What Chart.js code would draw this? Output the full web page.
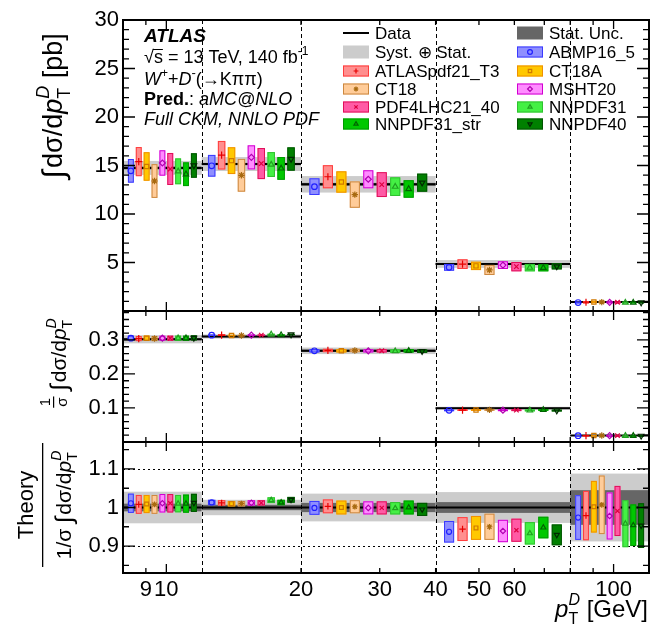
<!DOCTYPE html>
<html>
<head>
<meta charset="utf-8">
<title>W+D pT cross sections</title>
<script src="https://cdn.jsdelivr.net/npm/chart.js@4.4.1/dist/chart.umd.min.js"></script>
<style>
  body { margin: 0; background: #fff; }
  #wrap { position: relative; width: 650px; height: 625px; }
  #wrap canvas { position: absolute; left: 0; }
</style>
</head>
<body>
<div id="wrap">
  <canvas id="absChart" width="650" height="311" style="top:0px"></canvas>
  <canvas id="normChart" width="650" height="131" style="top:311px"></canvas>
  <canvas id="ratioChart" width="650" height="183" style="top:442px"></canvas>
</div>
<script>
// pT(D) bins [GeV]
const binEdges = [8, 12, 20, 40, 80, 120];
const pdfNames = ['ABMP16_5', 'ATLASpdf21_T3', 'CT18A', 'CT18', 'MSHT20',
                  'PDF4LHC21_40', 'NNPDF31', 'NNPDF31_str', 'NNPDF40'];

// Top panel: integrated cross section [pb]
const dataAbs = [14.75, 15.15, 13.06, 4.85, 0.93];
const dataAbsSyst = [0.72, 0.72, 0.85, 0.40, 0.08];
const dataAbsStat = [0.15, 0.12, 0.15, 0.07, 0.04];
const predAbs = [
  [14.45, 14.97, 12.82, 4.50, 0.87],
  [15.40, 16.06, 13.84, 4.83, 0.90],
  [14.90, 15.50, 13.30, 4.65, 0.93],
  [13.40, 13.99, 12.00, 4.23, 0.92],
  [15.26, 15.84, 13.58, 4.73, 0.89],
  [14.64, 15.20, 13.03, 4.57, 0.90],
  [14.40, 15.10, 12.82, 4.47, 0.86],
  [14.10, 14.70, 12.58, 4.45, 0.86],
  [15.00, 15.67, 13.23, 4.60, 0.87]
];
const predAbsErr = [
  [1.22, 1.12, 0.86, 0.35, 0.10],
  [1.50, 1.47, 1.19, 0.50, 0.13],
  [1.47, 1.38, 1.10, 0.43, 0.12],
  [1.74, 1.69, 1.36, 0.52, 0.14],
  [1.31, 1.24, 0.93, 0.40, 0.11],
  [1.65, 1.60, 1.28, 0.48, 0.13],
  [1.33, 1.28, 0.96, 0.38, 0.10],
  [1.22, 1.17, 0.90, 0.36, 0.09],
  [1.26, 1.20, 0.93, 0.31, 0.09]
];

// Middle panel: normalised cross section
const dataNorm = [0.302, 0.310, 0.268, 0.0995, 0.019];
const dataNormSyst = [0.012, 0.006, 0.0096, 0.004, 0.0017];
const dataNormStat = [0.003, 0.0022, 0.0035, 0.0014, 0.0009];
const predNorm = [
  [0.305, 0.314, 0.268, 0.0932, 0.0185],
  [0.304, 0.314, 0.269, 0.0939, 0.0186],
  [0.305, 0.313, 0.268, 0.0942, 0.0190],
  [0.304, 0.313, 0.269, 0.0945, 0.0191],
  [0.305, 0.314, 0.268, 0.0934, 0.0186],
  [0.305, 0.314, 0.268, 0.0936, 0.0188],
  [0.305, 0.316, 0.267, 0.0928, 0.0182],
  [0.305, 0.314, 0.268, 0.0943, 0.0181],
  [0.306, 0.316, 0.267, 0.0924, 0.0181]
];
const predNormErr = [0.0075, 0.0022, 0.005, 0.0028, 0.0012];

// Bottom panel: theory / data (normalised)
const dataRatio = [1, 1, 1, 1, 1];
const ratioSyst = [0.041, 0.020, 0.036, 0.040, 0.088];
const ratioStat = [0.010, 0.007, 0.012, 0.014, 0.045];
const predRatio = [
  [1.011, 1.013, 0.999, 0.937, 0.974],
  [1.008, 1.012, 1.003, 0.944, 0.979],
  [1.009, 1.010, 1.000, 0.947, 1.002],
  [1.008, 1.010, 1.002, 0.950, 1.007],
  [1.011, 1.012, 0.999, 0.939, 0.978],
  [1.011, 1.012, 0.999, 0.941, 0.991],
  [1.010, 1.019, 0.998, 0.933, 0.958],
  [1.010, 1.013, 1.000, 0.948, 0.954],
  [1.012, 1.020, 0.995, 0.929, 0.953]
];
const predRatioErr = [
  [0.025, 0.007, 0.018, 0.028, 0.058],
  [0.0245, 0.007, 0.018, 0.031, 0.064],
  [0.0235, 0.007, 0.018, 0.031, 0.067],
  [0.0245, 0.007, 0.017, 0.034, 0.076],
  [0.024, 0.007, 0.017, 0.029, 0.061],
  [0.024, 0.007, 0.017, 0.030, 0.065],
  [0.0225, 0.0075, 0.016, 0.029, 0.061],
  [0.0235, 0.007, 0.018, 0.028, 0.054],
  [0.0235, 0.0075, 0.017, 0.027, 0.058]
];

// axis ticks
const xTickLabels = [9, 10, 20, 30, 40, 50, 60, 100];
const xMajorTicks = [10, 100];
const xMinorTicks = [9, 20, 30, 40, 50, 60, 70, 80, 90];

// styles for each prediction
const pdfStyles = [
  { fill: '#8f8fff', edge: '#3a3aff', mark: '#1f1fff', shape: 'circle', open: true, r: 2.8 },
  { fill: '#ff8f8f', edge: '#ff3d3d', mark: '#e60000', shape: 'cross', open: false, r: 3.6 },
  { fill: '#ffc800', edge: '#f09000', mark: '#d07800', shape: 'rect', open: true, r: 3 },
  { fill: '#ffcc99', edge: '#cc8840', mark: '#a86a10', shape: 'star', open: false, r: 3.2 },
  { fill: '#ff8cff', edge: '#d000d0', mark: '#b000b0', shape: 'rectRot', open: true, r: 3 },
  { fill: '#ff5aa5', edge: '#e0105a', mark: '#dd0040', shape: 'crossRot', open: false, r: 3.2 },
  { fill: '#44f044', edge: '#30c030', mark: '#20a020', shape: 'triangle', open: true, r: 3.2 },
  { fill: '#00c800', edge: '#009a00', mark: '#006400', shape: 'triangle', open: true, r: 3.2 },
  { fill: '#008000', edge: '#005400', mark: '#002800', shape: 'triangle', rot: 180, open: true, r: 3.2 }
];

const FONT = '"Liberation Sans", Arial, Helvetica, sans-serif';
function font(size, style) {
  return (style ? style + ' ' : '') + size + 'px ' + FONT;
}

// position of prediction k inside bin b (log-spaced)
function slotX(b, k) {
  const lo = binEdges[b], hi = binEdges[b + 1];
  return lo * Math.pow(hi / lo, (k + 1) / 10);
}

function makeTicks(from, to, step) {
  const out = [];
  const n = Math.round((to - from) / step);
  for (let i = 0; i <= n; i++) out.push(parseFloat((from + i * step).toFixed(4)));
  return out;
}
function isMult(v, step) {
  return Math.abs(v / step - Math.round(v / step)) < 1e-6;
}

// draw a run of text pieces (with sup/sub) along the baseline
function drawRich(ctx, runs, x, y, draw) {
  let cx = x;
  for (const r of runs) {
    if (r.sup !== undefined || r.sub !== undefined) {
      let w = 0;
      if (r.sup) {
        ctx.font = r.supFont;
        if (draw) ctx.fillText(r.sup, cx, y - r.up);
        w = ctx.measureText(r.sup).width;
      }
      if (r.sub) {
        ctx.font = r.subFont;
        if (draw) ctx.fillText(r.sub, cx, y + r.down);
        w = Math.max(w, ctx.measureText(r.sub).width);
      }
      cx += w;
    } else {
      ctx.font = r.font;
      if (draw) ctx.fillText(r.t, cx, y + (r.dy || 0));
      cx += ctx.measureText(r.t).width + (r.after || 0);
    }
  }
  return cx - x;
}

function pTRuns(S) {
  return [
    { t: 'p', font: font(S, 'italic') },
    { sup: 'D', supFont: font(Math.round(S * 0.68), 'italic'), up: S * 0.5,
      sub: 'T', subFont: font(Math.round(S * 0.68)), down: S * 0.3 }
  ];
}
function intRuns(S) {
  return [
    { t: '\u222B', font: font(Math.round(S * 1.15)), dy: S * 0.06, after: S * 0.08 },
    { t: 'd\u03C3/d', font: font(S) }
  ].concat(pTRuns(S));
}

// rotated text, reading bottom to top; anchor = baseline x, centre y
function drawRotated(ctx, runs, baseX, centreY) {
  const w = drawRich(ctx, runs, 0, 0, false);
  ctx.save();
  ctx.translate(baseX, centreY);
  ctx.rotate(-Math.PI / 2);
  ctx.fillStyle = '#000';
  ctx.textBaseline = 'alphabetic';
  drawRich(ctx, runs, -w / 2, 0, true);
  ctx.restore();
  return w;
}

function drawMarker(ctx, st, x, y, r) {
  ctx.save();
  ctx.strokeStyle = st.mark;
  ctx.fillStyle = st.open ? 'rgba(0,0,0,0)' : st.mark;
  ctx.lineWidth = 1.2;
  Chart.helpers.drawPoint(ctx, { pointStyle: st.shape, rotation: st.rot || 0, radius: r, borderWidth: 1.2 }, x, y);
  ctx.restore();
}

function decorPlugin(cfg) {
  return {
    id: 'decor',
    beforeDatasetsDraw(chart) {
      const { ctx, chartArea: a, scales: { x, y } } = chart;
      ctx.save();
      ctx.beginPath();
      ctx.rect(a.left, a.top, a.right - a.left, a.bottom - a.top);
      ctx.clip();
      cfg.data.forEach((v, b) => {
        const x1 = x.getPixelForValue(binEdges[b]);
        const x2 = x.getPixelForValue(binEdges[b + 1]);
        let t = y.getPixelForValue(v + cfg.syst[b]);
        let bt = y.getPixelForValue(v - cfg.syst[b]);
        ctx.fillStyle = '#cccccc';
        ctx.fillRect(x1, t, x2 - x1, bt - t);
        t = y.getPixelForValue(v + cfg.stat[b]);
        bt = y.getPixelForValue(v - cfg.stat[b]);
        ctx.fillStyle = '#666666';
        ctx.fillRect(x1, t, x2 - x1, bt - t);
      });
      // dashed bin boundaries
      ctx.strokeStyle = '#000';
      ctx.lineWidth = 1;
      ctx.setLineDash([4, 3]);
      binEdges.slice(1, -1).forEach(e => {
        const px = Math.round(x.getPixelForValue(e)) + 0.5;
        ctx.beginPath();
        ctx.moveTo(px, a.top);
        ctx.lineTo(px, a.bottom);
        ctx.stroke();
      });
      // dotted reference lines
      ctx.setLineDash([2, 3]);
      (cfg.refLines || []).forEach(v => {
        const py = Math.round(y.getPixelForValue(v)) + 0.5;
        ctx.beginPath();
        ctx.moveTo(a.left, py);
        ctx.lineTo(a.right, py);
        ctx.stroke();
      });
      ctx.restore();
    },
    afterDatasetDraw(chart, args) {
      if (args.index !== 0) return;
      const { ctx, chartArea: a, scales: { x, y } } = chart;
      ctx.save();
      ctx.beginPath();
      ctx.rect(a.left, a.top, a.right - a.left, a.bottom - a.top);
      ctx.clip();
      cfg.pred.forEach((series, k) => {
        const st = pdfStyles[k];
        series.forEach((v, b) => {
          const e = cfg.err(k, b);
          const half = Math.pow(binEdges[b + 1] / binEdges[b], 0.0375);
          const c = slotX(b, k);
          const x1 = x.getPixelForValue(c / half), x2 = x.getPixelForValue(c * half);
          const y1 = y.getPixelForValue(v + e), y2 = y.getPixelForValue(v - e);
          ctx.fillStyle = st.fill;
          ctx.fillRect(x1, y1, x2 - x1, y2 - y1);
          ctx.strokeStyle = st.edge;
          ctx.lineWidth = 1;
          ctx.strokeRect(x1 + 0.5, y1 + 0.5, Math.max(x2 - x1 - 1, 0.5), Math.max(y2 - y1 - 1, 0.5));
        });
      });
      ctx.restore();
    },
    afterDraw(chart) {
      const { ctx, chartArea: a, scales: { x, y } } = chart;
      ctx.save();
      ctx.strokeStyle = '#000';
      ctx.lineWidth = 1.3;
      // y ticks, both sides, pointing in
      cfg.yTicks.forEach(v => {
        const py = y.getPixelForValue(v);
        if (py < a.top - 0.5 || py > a.bottom + 0.5) return;
        const len = isMult(v, cfg.yMajor) ? 12 : 6;
        ctx.beginPath();
        ctx.moveTo(a.left, py); ctx.lineTo(a.left + len, py);
        ctx.moveTo(a.right, py); ctx.lineTo(a.right - len, py);
        ctx.stroke();
      });
      // x ticks, top and bottom
      xMajorTicks.concat(xMinorTicks).forEach(v => {
        const px = x.getPixelForValue(v);
        const len = xMajorTicks.includes(v) ? 9 : 5;
        ctx.beginPath();
        ctx.moveTo(px, a.bottom); ctx.lineTo(px, a.bottom - len);
        ctx.moveTo(px, a.top); ctx.lineTo(px, a.top + len);
        ctx.stroke();
      });
      ctx.lineWidth = 2;
      ctx.strokeRect(a.left, a.top, a.right - a.left, a.bottom - a.top);
      ctx.restore();
      if (cfg.extra) cfg.extra(chart);
    }
  };
}

function buildPanel(id, cfg) {
  const linePts = [];
  cfg.data.forEach((v, b) => {
    linePts.push({ x: binEdges[b], y: v }, { x: binEdges[b + 1], y: v }, { x: binEdges[b + 1], y: null });
  });
  const datasets = [{
    type: 'line', label: 'Data', data: linePts, borderColor: '#000', borderWidth: 2,
    pointRadius: 0, spanGaps: false, order: 1
  }];
  pdfNames.forEach((name, k) => {
    const st = pdfStyles[k];
    datasets.push({
      type: 'scatter', label: name,
      data: cfg.pred[k].map((v, b) => ({ x: slotX(b, k), y: v })),
      pointStyle: st.shape, rotation: st.rot || 0, pointRadius: st.r * cfg.markScale,
      pointBorderWidth: 1.2, pointBorderColor: st.mark,
      pointBackgroundColor: st.open ? 'rgba(0,0,0,0)' : st.mark, order: 0
    });
  });

  return new Chart(document.getElementById(id), {
    type: 'scatter',
    data: { datasets },
    options: {
      responsive: false,
      animation: false,
      events: [],
      layout: { autoPadding: false, padding: { top: cfg.padTop, right: 1, bottom: 0, left: 0 } },
      plugins: { legend: { display: false }, tooltip: { enabled: false } },
      scales: {
        x: {
          type: 'logarithmic', min: 8, max: 120, bounds: 'data',
          display: cfg.showX,
          grid: { display: false, drawTicks: false },
          border: { display: false },
          afterBuildTicks: s => { s.ticks = xTickLabels.map(v => ({ value: v })); },
          afterFit: s => {
            s.height = cfg.showX ? 52 : 0;
            s.paddingLeft = 0; s.paddingRight = 0;
          },
          ticks: {
            autoSkip: false, maxRotation: 0, minRotation: 0, padding: 4,
            color: '#000', font: { family: FONT, size: 22 },
            callback: v => String(v)
          }
        },
        y: {
          min: cfg.yMin, max: cfg.yMax, bounds: 'data',
          grid: { display: false, drawTicks: false },
          border: { display: false },
          afterBuildTicks: s => { s.ticks = cfg.yTicks.map(v => ({ value: v })); },
          afterFit: s => {
            s.width = 123;
            s.paddingTop = 0; s.paddingBottom = 0;
          },
          ticks: {
            autoSkip: false, padding: 4, color: '#000',
            font: { family: FONT, size: 22 },
            callback: cfg.yLabel
          }
        }
      }
    },
    plugins: [decorPlugin(cfg)]
  });
}

// ---------- text for each panel ----------
function drawTopTexts(chart) {
  const ctx = chart.ctx;
  ctx.save();
  ctx.fillStyle = '#000';
  ctx.textBaseline = 'alphabetic';
  const X0 = 144, S = 18;
  drawRich(ctx, [{ t: 'ATLAS', font: font(19, 'italic bold') }], X0, 42, true);
  // sqrt(s) line
  ctx.font = font(S);
  const wRoot = ctx.measureText('\u221A').width;
  const wS = ctx.measureText('s').width;
  drawRich(ctx, [
    { t: '\u221A', font: font(S) },
    { t: 's = 13 TeV, 140 fb', font: font(S) },
    { sup: '-1', supFont: font(12), up: 8 }
  ], X0, 63, true);
  ctx.lineWidth = 1;
  ctx.strokeStyle = '#000';
  ctx.beginPath();
  ctx.moveTo(X0 + wRoot - 1, 49.5);
  ctx.lineTo(X0 + wRoot + wS, 49.5);
  ctx.stroke();
  drawRich(ctx, [
    { t: 'W', font: font(S, 'italic') },
    { sup: '+', supFont: font(12), up: 8 },
    { t: '+', font: font(S) },
    { t: 'D', font: font(S, 'italic') },
    { sup: '-', supFont: font(13), up: 8 },
    { t: '(\u2192K\u03C0\u03C0)', font: font(S) }
  ], X0, 85, true);
  drawRich(ctx, [
    { t: 'Pred.', font: font(S, 'bold') },
    { t: ': ', font: font(S) },
    { t: 'aMC@NLO', font: font(S, 'italic') }
  ], X0, 105, true);
  drawRich(ctx, [{ t: 'Full CKM, NNLO PDF', font: font(S, 'italic') }], X0, 125, true);

  // legend, two columns filled row by row
  const entries = ['Data', 'Stat. Unc.', 'Syst. \u2295 Stat.'].concat(pdfNames);
  const rowY = [33, 52, 71, 89, 107, 124];
  const sampleX = [343, 517];
  const textX = [375, 549];
  entries.forEach((name, i) => {
    const col = i % 2, row = Math.floor(i / 2);
    const cy = rowY[row], sx = sampleX[col];
    if (i === 0) {
      ctx.fillStyle = '#000';
      ctx.fillRect(sx, cy - 1, 26, 2);
    } else if (i === 1) {
      ctx.fillStyle = '#666666';
      ctx.fillRect(sx, cy - 6.5, 26, 13);
    } else if (i === 2) {
      ctx.fillStyle = '#cccccc';
      ctx.fillRect(sx, cy - 6.5, 26, 13);
    } else {
      const st = pdfStyles[i - 3];
      ctx.fillStyle = st.fill;
      ctx.fillRect(sx, cy - 5.5, 26, 11);
      ctx.strokeStyle = st.edge;
      ctx.lineWidth = 1;
      ctx.strokeRect(sx + 0.5, cy - 5, 25, 10);
      drawMarker(ctx, st, sx + 13, cy, 2.4);
    }
    ctx.fillStyle = '#000';
    ctx.font = font(17);
    ctx.fillText(name, textX[col], cy + 6);
  });

  // y title
  drawRotated(ctx, intRuns(27).concat([{ t: ' [pb]', font: font(27) }]), 62, 106);
  ctx.restore();
}

function drawMidTexts(chart) {
  const ctx = chart.ctx;
  ctx.save();
  ctx.fillStyle = '#000';
  const S = 21;
  const runs = intRuns(S);
  const wMain = drawRich(ctx, runs, 0, 0, false);
  ctx.font = font(15);
  const wFrac = Math.max(ctx.measureText('1').width, ctx.measureText('\u03C3').width) + 2;
  const gap = 6;
  const total = wFrac + gap + wMain;
  const cy = 52;
  ctx.translate(66, cy);
  ctx.rotate(-Math.PI / 2);
  const x0 = -total / 2;
  // 1 over sigma
  ctx.font = font(15);
  ctx.textAlign = 'center';
  ctx.fillText('1', x0 + wFrac / 2, -16);
  ctx.fillText('\u03C3', x0 + wFrac / 2, 1);
  ctx.fillRect(x0, -13, wFrac, 1.2);
  ctx.textAlign = 'left';
  drawRich(ctx, runs, x0 + wFrac + gap, 0, true);
  ctx.restore();
}

function drawBotTexts(chart) {
  const ctx = chart.ctx;
  ctx.save();
  ctx.fillStyle = '#000';
  const S = 21;
  // fraction: Theory / (1/sigma int dsigma/dpT)
  drawRotated(ctx, [{ t: 'Theory', font: font(22) }], 33, 63);
  ctx.fillRect(42, 1, 1.3, 124);
  drawRotated(ctx, [{ t: '1/\u03C3 ', font: font(S) }].concat(intRuns(S)), 71, 63);
  // x title
  const runs = pTRuns(24).concat([{ t: ' [GeV]', font: font(24) }]);
  const w = drawRich(ctx, runs, 0, 0, false);
  drawRich(ctx, runs, 648 - w, 175, true);
  ctx.restore();
}

// ---------- build the three panels ----------
buildPanel('absChart', {
  data: dataAbs, syst: dataAbsSyst, stat: dataAbsStat,
  pred: predAbs, err: (k, b) => predAbsErr[k][b],
  yMin: 0, yMax: 30, yTicks: makeTicks(0, 30, 1), yMajor: 5,
  yLabel: v => (isMult(v, 5) && v > 0 ? String(v) : null),
  padTop: 20, showX: false, markScale: 1, extra: drawTopTexts
});

buildPanel('normChart', {
  data: dataNorm, syst: dataNormSyst, stat: dataNormStat,
  pred: predNorm, err: (k, b) => predNormErr[b],
  yMin: 0, yMax: 0.385, yTicks: makeTicks(0, 0.38, 0.02), yMajor: 0.1,
  yLabel: v => (isMult(v, 0.1) && v > 0.05 ? v.toFixed(1) : null),
  padTop: 0, showX: false, markScale: 1, extra: drawMidTexts
});

buildPanel('ratioChart', {
  data: dataRatio, syst: ratioSyst, stat: ratioStat,
  pred: predRatio, err: (k, b) => predRatioErr[k][b],
  yMin: 0.83, yMax: 1.17, yTicks: makeTicks(0.85, 1.15, 0.05), yMajor: 0.1,
  yLabel: v => (isMult(v, 0.1) ? (Math.abs(v - 1) < 1e-6 ? '1' : v.toFixed(1)) : null),
  refLines: [0.9, 1.1],
  padTop: 0, showX: true, markScale: 0.9, extra: drawBotTexts
});
</script>
</body>
</html>
